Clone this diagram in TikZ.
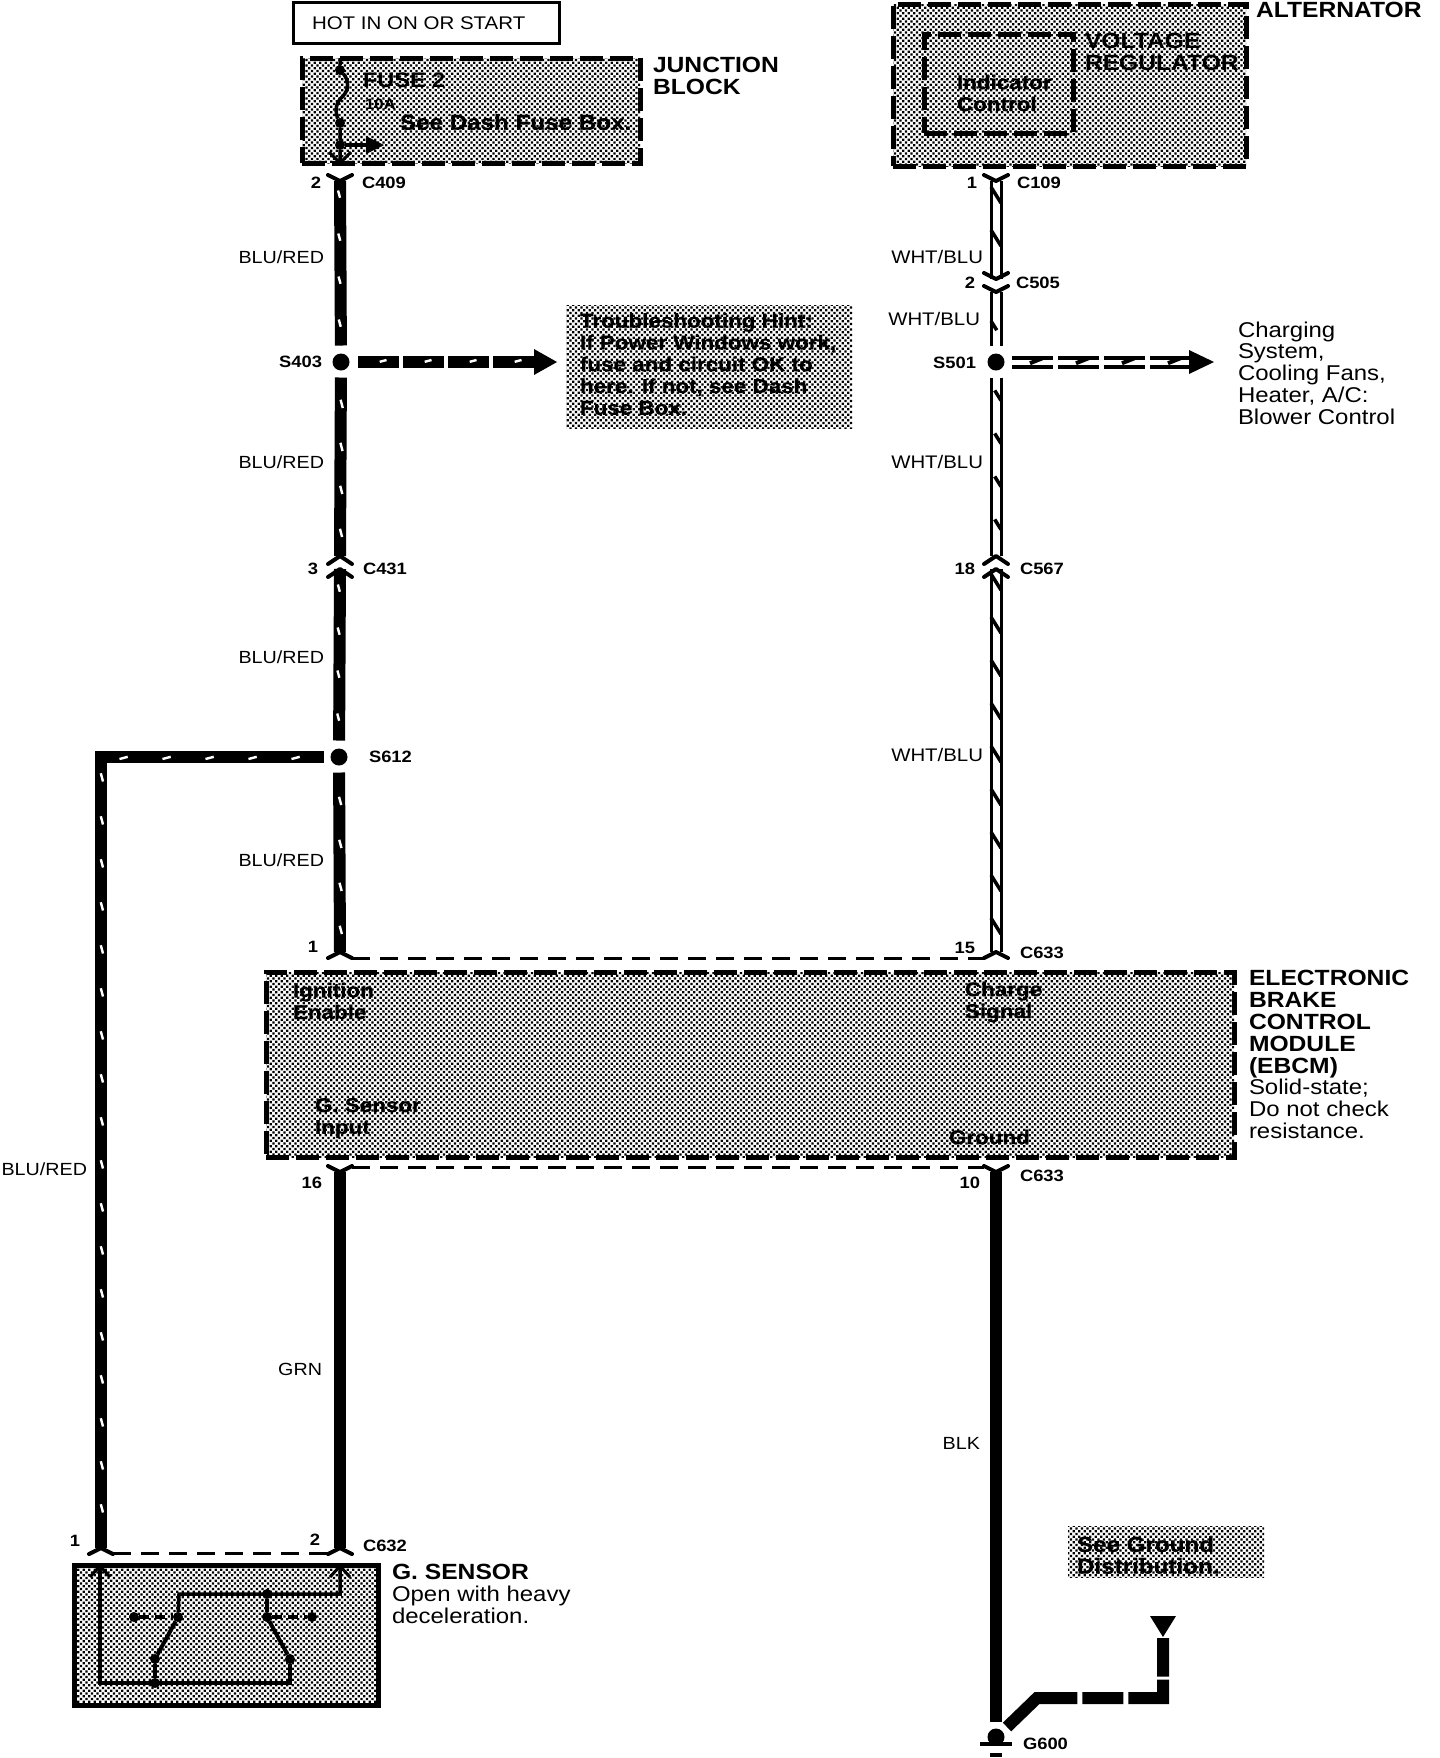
\documentclass[tikz,border=0pt]{standalone}
\usepackage{fontspec}
\setmainfont{Liberation Sans}[FakeStretch=1.12]
\newfontfamily\shadefont{Liberation Sans}[FakeStretch=1.12,BoldFeatures={FakeBold=0.5}]
\usetikzlibrary{patterns,decorations.markings}

\pgfdeclarepatternformonly{halftone}{\pgfqpoint{-.1pt}{-.1pt}}{\pgfqpoint{2.85pt}{2.85pt}}{\pgfqpoint{2.75pt}{2.75pt}}{
  \pgfpathrectangle{\pgfqpoint{0pt}{0pt}}{\pgfqpoint{1.2pt}{1.2pt}}
  \pgfpathrectangle{\pgfqpoint{1.375pt}{1.375pt}}{\pgfqpoint{1.2pt}{1.2pt}}
  \pgfusepath{fill}}

\tikzset{
  every node/.append style={inner sep=0pt,outer sep=0pt},
  modbox/.style={draw,line width=2.5pt,dash pattern=on 11.5pt off 3.5pt,pattern=halftone,anchor=north west},
  hintbox/.style={pattern=halftone,anchor=north west},
  title/.style={font=\fontsize{11pt}{11pt}\selectfont\bfseries,align=left,anchor=west},
  body/.style={font=\fontsize{10.7pt}{10.9pt}\selectfont,align=left,anchor=west},
  shaded/.style={font=\fontsize{10pt}{10.9pt}\selectfont\shadefont\bfseries,align=left,anchor=west},
  shadedbig/.style={font=\fontsize{10.8pt}{10.9pt}\selectfont\shadefont\bfseries,align=left,anchor=west},
  wirelab/.style={font=\fontsize{8.8pt}{10pt}\selectfont,anchor=east},
  whtlab/.style={font=\fontsize{9.1pt}{10pt}\selectfont,anchor=east},
  connlab/.style={font=\fontsize{8.2pt}{10pt}\selectfont\bfseries,anchor=west},
  pinlab/.style={font=\fontsize{8.2pt}{10pt}\selectfont\bfseries,anchor=east},
  splice/.style={circle,fill=black,minimum size=8.5pt},
  pt/.style={circle,fill=black,minimum size=5pt},
  chev/.style={line width=2pt,line cap=round,line join=round},
  plug/.style={line width=1.5pt},
  bus/.style={line width=1.5pt,dash pattern=on 9pt off 5pt},
  thin wire/.style={line width=1.75pt,line join=miter},
  solidwire/.style={line width=6pt,line join=miter},
  bluwire/.style 2 args={line width=6pt,line join=miter,postaction={decorate},
    decoration={markings,mark=between positions #1 and 1 step #2 with
      {\draw[white,solid,line width=1.2pt] (-7.5,2) -- (7.5,-2);}}},
  whtwire/.style 2 args={line width=6.5pt,postaction={draw=white,line width=3.5pt},postaction={decorate},
    decoration={markings,mark=between positions #1 and 1 step #2 with
      {\draw[black,solid,line width=1.75pt] (-8,5) -- (8,-5);}}},
  whtarrow/.style={line width=6.5pt,postaction={draw=white,line width=2.5pt},postaction={decorate},
    decoration={markings,mark=between positions 14.25pt and 1 step 23pt with
      {\draw[black,solid,line width=2pt] (-10,4) -- (10,-4);}}},
}

\begin{document}
\begin{tikzpicture}[x=0.5pt,y=-0.5pt]
\useasboundingbox (0,0) rectangle (1440,1758);

% boxes
\node (hotbox) [draw,line width=1.5pt,minimum width=133pt,minimum height=20.5pt,anchor=north west] at (293,2) {};
\node (fusebox) [modbox,minimum width=169pt,minimum height=52.5pt] at (302,58) {};
\node (altbox) [modbox,minimum width=176.5pt,minimum height=81pt] at (893,4) {};
\node (regbox) [draw,line width=2.5pt,dash pattern=on 11.5pt off 3.5pt,minimum width=74.5pt,minimum height=49.5pt,anchor=north west] at (924,34) {};
\node (hintbg) [hintbox,minimum width=143pt,minimum height=61.5pt] at (566,305) {};
\node (ebcm) [modbox,minimum width=484pt,minimum height=92.5pt] at (266,972) {};
\node (sensor) [draw,line width=2.5pt,pattern=halftone,minimum width=152pt,minimum height=70pt,anchor=north west] at (74,1565) {};
\node (gndbox) [hintbox,minimum width=98pt,minimum height=25.5pt] at (1068,1526) {};

% connector points
\coordinate (c409) at (340,181);
\coordinate (c431a) at (340,556);
\coordinate (c431b) at (340,569);
\coordinate (c633a) at (340,952);
\coordinate (c633b) at (340,1172);
\coordinate (c632a) at (101,1548);
\coordinate (c632b) at (340,1548);
\coordinate (corner) at (101,757);
\coordinate (c109) at (996,181);
\coordinate (c505a) at (996,279);
\coordinate (c505b) at (996,292);
\coordinate (c567a) at (996,556);
\coordinate (c567b) at (996,569);
\coordinate (c633c) at (996,952);
\coordinate (c633d) at (996,1172);
\coordinate (g600wire) at (996,1722);
\coordinate (tipa) at (534,362);
\coordinate (tipb) at (1189,362);
\node (s403) [splice] at (341,362) {};
\node (s612) [splice] at (339,757) {};
\node (s501) [splice] at (996,362) {};
\node (g600) [splice] at (996,1737) {};

% BLU/RED side
\draw [bluwire={8.5pt}{21.5pt},shorten >=4pt] (c409) -- (s403);
\draw [bluwire={15pt}{21.5pt},shorten <=3.5pt] (s403) -- (c431a);
\draw [bluwire={11.5pt}{21.5pt},shorten >=4pt] (c431b) -- (s612);
\draw [bluwire={16pt}{21.5pt},shorten <=3.5pt] (s612) -- (c633a);
\draw [bluwire={15.75pt}{21.5pt},shorten <=3.5pt] (s612) -- (corner) -- (c632a);
\draw [bluwire={14.75pt}{22.5pt},dash pattern=on 20.5pt off 2pt,shorten <=4.25pt] (s403) -- (tipa);
\fill (534,349) -- (557,362) -- (534,375) -- cycle;
\draw [solidwire] (c633b) -- (c632b);

% WHT/BLU side
\draw [whtwire={7pt}{21.5pt}] (c109) -- (c505a);
\draw [whtwire={18.5pt}{21.5pt},shorten >=4pt] (c505b) -- (s501);
\draw [whtwire={11pt}{21.5pt},shorten <=3.5pt] (s501) -- (c567a);
\draw [whtwire={6.5pt}{21.5pt}] (c567b) -- (c633c);
\draw [whtarrow,dash pattern=on 20.5pt off 2.5pt,shorten <=3.75pt] (s501) -- (tipb);
\fill (1189,350) -- (1214,362) -- (1189,374) -- cycle;
\draw [solidwire] (c633d) -- (g600wire);

% plugs
\draw [chev] (c409) ++(-12,-6) -- ++(12,6) -- ++(12,-6);
\draw [chev] (c109) ++(-12,-6) -- ++(12,6) -- ++(12,-6);
\draw [chev] (c505a) ++(-12,-6) -- ++(12,6) -- ++(12,-6);
\draw [chev] (c505b) ++(-12,-6) -- ++(12,6) -- ++(12,-6);
\draw [chev] (c431a) ++(-12,8) -- ++(12,-8) -- ++(12,8);
\draw [chev] (c431b) ++(-12,8) -- ++(12,-8) -- ++(12,8);
\draw [chev] (c567a) ++(-12,8) -- ++(12,-8) -- ++(12,8);
\draw [chev] (c567b) ++(-12,8) -- ++(12,-8) -- ++(12,8);
\draw [chev] (c633a) ++(-12,6) -- ++(12,-6) -- ++(12,6);
\draw [chev] (c633c) ++(-12,6) -- ++(12,-6) -- ++(12,6);
\draw [chev] (c633b) ++(-12,-6) -- ++(12,6) -- ++(12,-6);
\draw [chev] (c633d) ++(-12,-6) -- ++(12,6) -- ++(12,-6);
\draw [chev] (c632a) ++(-12,6) -- ++(12,-6) -- ++(12,6);
\draw [chev] (c632b) ++(-12,6) -- ++(12,-6) -- ++(12,6);
\draw [bus] (352,958) -- (984,958);
\draw [bus] (352,1167) -- (984,1167);
\draw [bus] (113,1553) -- (328,1553);

% fuse
\node (fa) [pt] at (340,70) {};
\node (fb) [pt] at (340,123) {};
\node (fc) [pt] at (340,145) {};
\coordinate (ftop) at (340,58);
\coordinate (fend) at (340,163);
\draw [thin wire] (ftop) -- (fa) .. controls (349,80) and (349,90) .. (343,96) .. controls (335,103) and (335,112) .. (fb) -- (fc) -- (fend);
\draw [thin wire] (fc) -- (368,145);
\fill (366,136) -- (384,145) -- (366,154) -- cycle;
\draw [plug] (329,152) -- (fend) -- (351,152);

% g sensor
\coordinate (pina) at (100,1566);
\coordinate (pinb) at (340,1566);
\coordinate (jc) at (179,1594);
\coordinate (jd) at (340,1594);
\coordinate (je) at (100,1683);
\coordinate (jf) at (290,1683);
\node (sa) [pt] at (134,1617) {};
\node (sb) [pt] at (178,1617) {};
\node (sc) [pt] at (155,1659) {};
\node (sd) [pt] at (155,1683) {};
\node (se) [pt] at (267,1594) {};
\node (sf) [pt] at (267,1617) {};
\node (sg) [pt] at (290,1659) {};
\node (sh) [pt] at (312,1617) {};
\draw [thin wire] (pina) -- (je) -- (jf) -- (sg);
\draw [thin wire] (pinb) -- (jd) -- (jc) -- (sb);
\draw [thin wire] (se) -- (sf);
\draw [thin wire] (sc) -- (sd);
\draw [line width=2pt] (sb) -- (sc);
\draw [line width=2pt] (sf) -- (sg);
\draw [thin wire,dash pattern=on 5pt off 3pt] (sa) -- (sb);
\draw [thin wire,dash pattern=on 5pt off 3pt] (sf) -- (sh);
\draw [plug] (90,1577) -- (pina) -- (110,1577);
\draw [plug] (330,1577) -- (pinb) -- (350,1577);

% ground
\draw [solidwire,dash pattern=on 41pt off 2.5pt on 20.5pt off 2.5pt on 26.5pt off 1.5pt on 21pt off 10pt] (1007,1727) -- (1037,1698) -- (1163,1698) -- (1163,1638);
\fill (1150,1616) -- (1176,1616) -- (1163,1637) -- cycle;
\coordinate (gbara) at (980,1744);
\coordinate (gbarb) at (1012,1744);
\coordinate (gbarc) at (990,1755);
\coordinate (gbard) at (1002,1755);
\draw [thin wire] (gbara) -- (gbarb);
\draw [thin wire] (gbarc) -- (gbard);

% module texts
\node (hot) [font=\fontsize{9.15pt}{10pt}\selectfont,anchor=west] at (312,23) {HOT IN ON OR START};
\node (jblock) [title] at (653,76) {JUNCTION\\BLOCK};
\node (fuse) [font=\fontsize{10.5pt}{11pt}\selectfont\bfseries,anchor=west] at (363,80) {FUSE 2};
\node (amps) [font=\fontsize{7.5pt}{9pt}\selectfont\bfseries,anchor=west] at (365,104) {10A};
\node (seefuse) [shadedbig] at (400,122) {See Dash Fuse Box.};
\node (alt) [title] at (1256,10) {ALTERNATOR};
\node (vreg) [title] at (1085,52) {VOLTAGE\\REGULATOR};
\node (indic) [shaded] at (957,93) {Indicator\\Control};
\node (hint) [shaded] at (580,364) {Troubleshooting Hint:\\If Power Windows work,\\fuse and circuit OK to\\here.  If not, see Dash\\Fuse Box.};
\node (charging) [body] at (1238,373) {Charging\\System,\\Cooling Fans,\\Heater, A/C:\\Blower Control};
\node (ignition) [shaded] at (293,1001) {Ignition\\Enable};
\node (charge) [shaded] at (965,1002) {Charge\\Signal};
\node (gsig) [shaded] at (315,1118) {G. Sensor\\Input};
\node (ground) [shaded] at (949,1137) {Ground};
\node (ebcmname) [title] at (1249,1024) {ELECTRONIC\\BRAKE\\CONTROL\\MODULE\\(EBCM)};
\node (ebcmnote) [body] at (1249,1109) {Solid-state;\\Do not check\\resistance.};
\node (gname) [title] at (392,1572) {G. SENSOR};
\node (gnote) [body] at (392,1605) {Open with heavy\\deceleration.};
\node (seegnd) [shadedbig] at (1077,1555) {See Ground\\Distribution.};

% pin and connector labels
\node (p2a) [pinlab] at (321,183) {2};
\node (n409) [connlab] at (362,183) {C409};
\node (p3) [pinlab] at (318,569) {3};
\node (n431) [connlab] at (363,569) {C431};
\node (p1a) [pinlab] at (318,947) {1};
\node (p16) [pinlab] at (322,1183) {16};
\node (p1b) [pinlab] at (80,1541) {1};
\node (p2b) [pinlab] at (320,1540) {2};
\node (n632) [connlab] at (363,1546) {C632};
\node (p1c) [pinlab] at (977,183) {1};
\node (n109) [connlab] at (1017,183) {C109};
\node (p2c) [pinlab] at (975,283) {2};
\node (n505) [connlab] at (1016,283) {C505};
\node (p18) [pinlab] at (975,569) {18};
\node (n567) [connlab] at (1020,569) {C567};
\node (p15) [pinlab] at (975,948) {15};
\node (n633a) [connlab] at (1020,953) {C633};
\node (p10) [pinlab] at (980,1183) {10};
\node (n633b) [connlab] at (1020,1176) {C633};
\node (n403) [pinlab] at (322,362) {S403};
\node (n612) [connlab] at (369,757) {S612};
\node (n501) [pinlab] at (976,363) {S501};
\node (n600) [connlab] at (1023,1744) {G600};

% wire colours
\node (w1) [wirelab] at (324,257) {BLU/RED};
\node (w2) [wirelab] at (324,462) {BLU/RED};
\node (w3) [wirelab] at (324,657) {BLU/RED};
\node (w4) [wirelab] at (324,860) {BLU/RED};
\node (w5) [wirelab] at (87,1169) {BLU/RED};
\node (w6) [wirelab] at (322,1369) {GRN};
\node (w7) [whtlab] at (983,257) {WHT/BLU};
\node (w8) [whtlab] at (980,319) {WHT/BLU};
\node (w9) [whtlab] at (983,462) {WHT/BLU};
\node (w10) [whtlab] at (983,755) {WHT/BLU};
\node (w11) [wirelab] at (980,1443) {BLK};
\end{tikzpicture}
\end{document}
